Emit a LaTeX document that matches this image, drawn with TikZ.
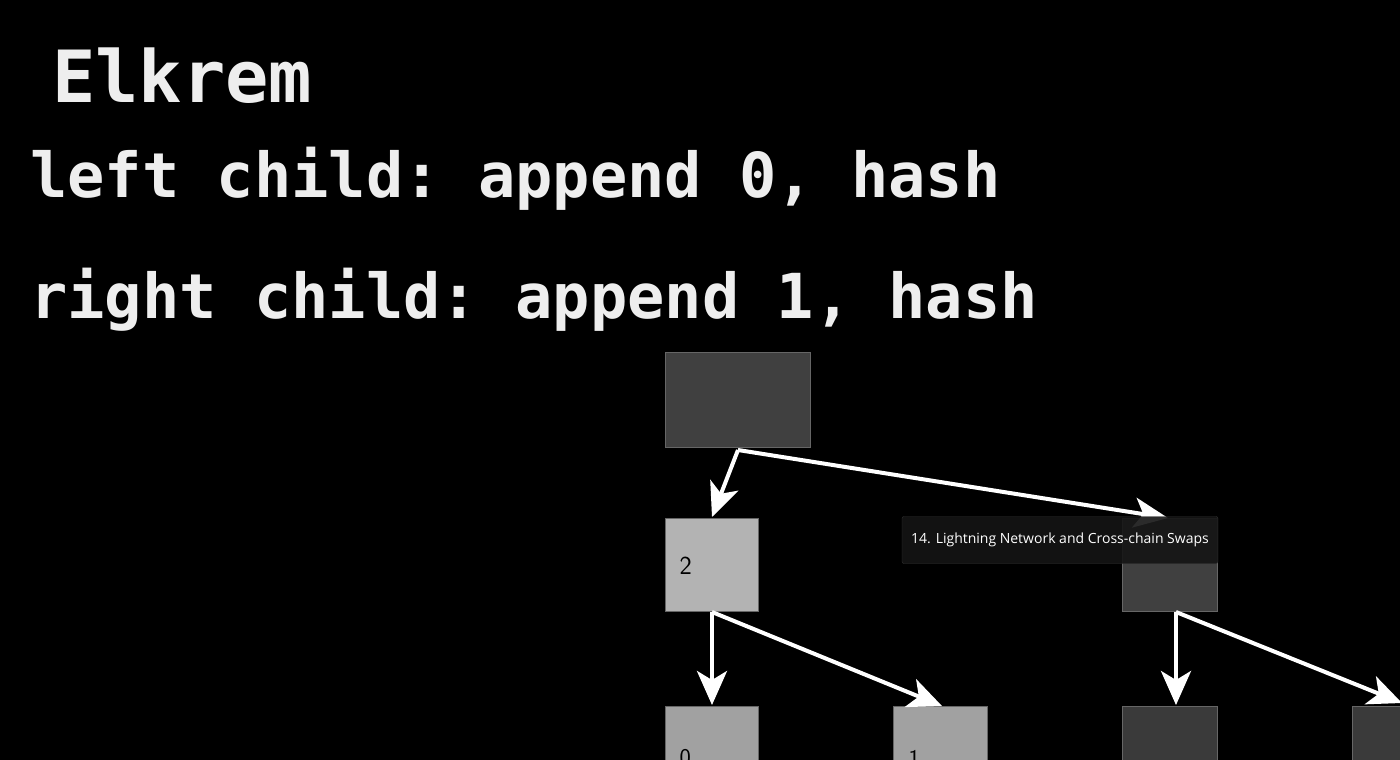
\documentclass[tikz,border=0pt]{standalone}
\usepackage{fontspec}
\setmonofont{DejaVu Sans Mono}
\newfontfamily\tipfont{Open Sans}
\usetikzlibrary{arrows.meta}
\definecolor{darkbox}{HTML}{404040}
\definecolor{lightbox}{HTML}{B3B3B3}
\definecolor{txt}{HTML}{EEEEEE}
\begin{document}
\begin{tikzpicture}[x=1pt,y=-1pt,
  arr/.style={white,line width=4pt,-{Stealth[length=34pt,width=30pt,inset=9pt]}},
  big/.style={anchor=base west,text=txt,inner sep=0pt,font=\ttfamily\bfseries}]
\fill[black] (0,0) rectangle (1400,760);
\useasboundingbox (0,0) rectangle (1400,760);
\node[big,font=\ttfamily\bfseries\fontsize{72}{72}\selectfont] (t) at (52,102) {Elkrem};
\node[big,font=\ttfamily\bfseries\fontsize{62}{62}\selectfont] (l1) at (30,197) {left child: append 0, hash};
\node[big,font=\ttfamily\bfseries\fontsize{62}{62}\selectfont] (l2) at (30,318) {right child: append 1, hash};
% boxes
\fill[darkbox,draw=black!60] (665,352) rectangle (810,447);
\fill[lightbox,draw=black!60] (665,518) rectangle (758,611);
\node[anchor=west,font=\sffamily\fontsize{26}{26}\selectfont] (two) at (676,566) {2};
\fill[darkbox,draw=black!60] (1122,518) rectangle (1217,611);
\fill[lightbox!90!black,draw=black!60] (665,706) rectangle (758,770);
\node[anchor=west,font=\sffamily\fontsize{24}{24}\selectfont] (zero) at (676,758) {0};
\fill[lightbox!90!black,draw=black!60] (893,706) rectangle (987,770);
\node[anchor=west,font=\sffamily\fontsize{24}{24}\selectfont] (one) at (905,758) {1};
\fill[darkbox!90!black,draw=black!60] (1122,706) rectangle (1217,770);
\fill[darkbox!90!black,draw=black!60] (1352,706) rectangle (1420,770);
% coordinates
\coordinate (a) at (738,450);
\coordinate (b) at (712,517);
\coordinate (c) at (1168,518);
\coordinate (d) at (712,612);
\coordinate (e) at (712,705);
\coordinate (f) at (942,706);
\coordinate (g) at (1176,612);
\coordinate (h) at (1176,705);
\coordinate (i) at (1402,703);
\draw[arr] (a) -- (b);
\draw[arr] (a) -- (c);
\draw[arr] (d) -- (e);
\draw[arr] (d) -- (f);
\draw[arr] (g) -- (h);
\draw[arr] (g) -- (i);
% tooltip
\node[draw=black!80!white,fill=black!92!white,fill opacity=0.9,text opacity=1,rounded corners=2pt,minimum width=316pt,minimum height=47pt,text=white,font=\tipfont\fontsize{14}{14}\selectfont] (tip) at (1060,540) {14. Lightning Network and Cross-chain Swaps};
\end{tikzpicture}
\end{document}
